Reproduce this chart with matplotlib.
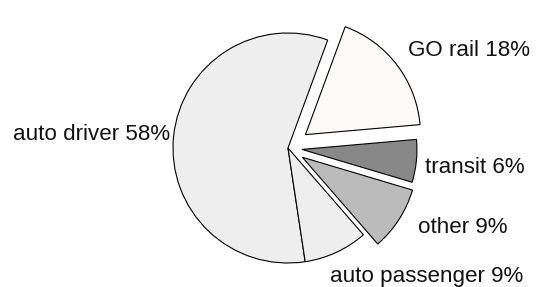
import matplotlib.pyplot as plt

plt.rcParams['font.family'] = ['Liberation Sans', 'DejaVu Sans']

# slices in drawing order (counter-clockwise from the right)
labels = ['GO rail', 'auto driver', 'auto passenger', 'other', 'transit']
shares = [18, 58, 9, 9, 6]
colors = ['#fcfbf9', '#eeeeee', '#eeeeee', '#bbbbbb', '#888888']
explode = [22, 0, 0, 17, 14]  # in pixels, the axes uses pixel units

# label anchors (left, baseline) in pixels from the top-left
label_pos = {
    'GO rail': (408, 56),
    'auto driver': (13, 140),
    'auto passenger': (330, 282),
    'other': (418, 233),
    'transit': (425, 173),
}

W, H = 536, 287
fig = plt.figure(figsize=(W / 100, H / 100), dpi=100)
ax = fig.add_axes([0, 0, 1, 1])

ax.pie(shares, colors=colors, explode=explode, startangle=5,
       center=(288, H - 148), radius=115,
       wedgeprops=dict(edgecolor='black', linewidth=0.8))

for lab, val in zip(labels, shares):
    px, py = label_pos[lab]
    ax.text(px, H - py, f'{lab} {val}%', fontsize=16.1, color='#111111',
            ha='left', va='baseline')

ax.set_xlim(0, W)
ax.set_ylim(0, H)
ax.set_aspect('equal')
ax.axis('off')

fig.savefig('out.png', dpi=100)
